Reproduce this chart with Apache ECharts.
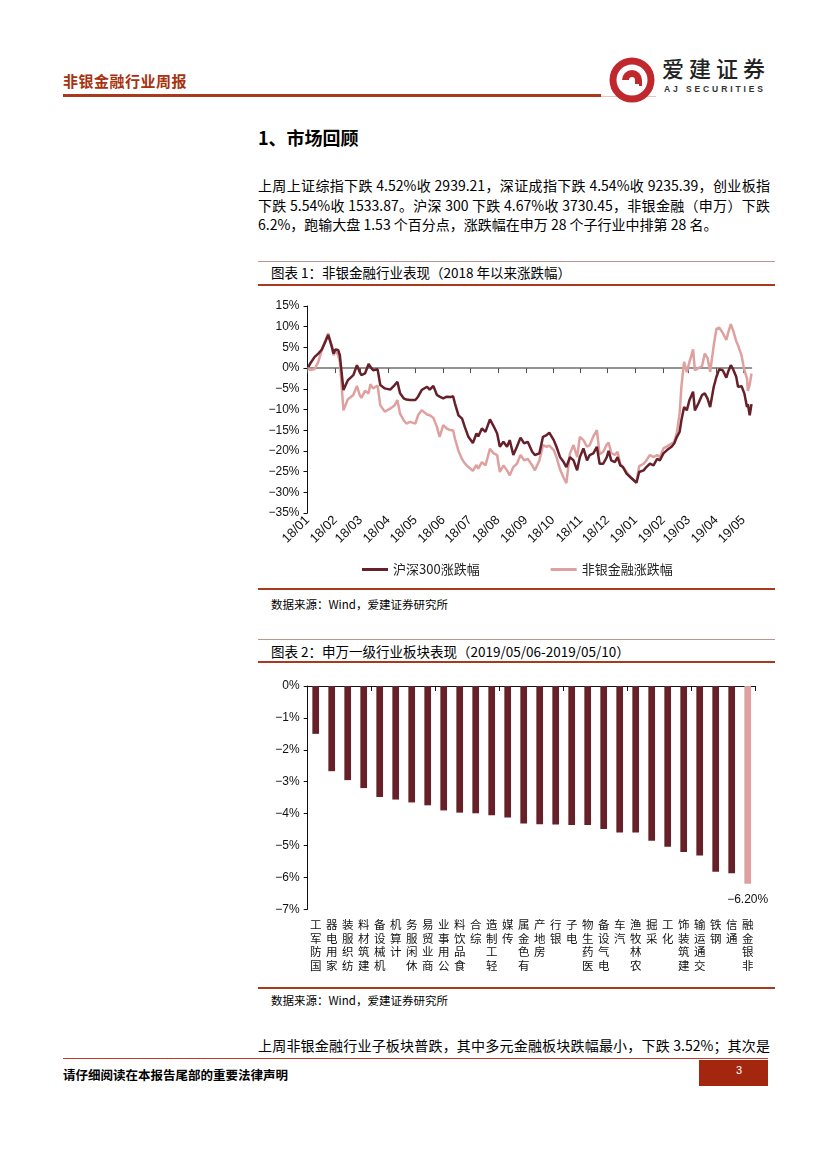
<!DOCTYPE html>
<html><head><meta charset="utf-8">
<script src="https://cdn.jsdelivr.net/npm/echarts@6/dist/echarts.min.js"></script>
<style>
html,body{margin:0;padding:0;background:#fff;}
body{width:827px;height:1169px;position:relative;overflow:hidden;font-family:"Noto Sans CJK SC","Liberation Sans",sans-serif;color:#000;}
.abs{position:absolute;white-space:nowrap;}
.hline{position:absolute;}
.para{position:absolute;left:258px;width:512px;font-size:14px;line-height:18px;white-space:nowrap;}
.just{text-align:justify;text-align-last:justify;}
.ttl{position:absolute;left:271px;font-size:13.5px;line-height:16px;}
.src{position:absolute;left:271px;font-size:11.5px;line-height:14px;}
</style></head>
<body>
<!-- header -->
<div class="abs" style="left:63px;top:72px;font-size:15px;font-weight:700;color:#A8310E;letter-spacing:0.5px;line-height:18px;">非银金融行业周报</div>
<div class="hline" style="left:63px;top:94px;width:538px;height:3px;background:#A8391A;"></div>
<div class="hline" style="left:601px;top:96px;width:55px;height:1px;background:#E2C7BE;"></div>
<svg class="abs" style="left:608px;top:56px" width="48" height="48" viewBox="0 0 48 48">
  <circle cx="24" cy="24" r="19" fill="none" stroke="#C0282D" stroke-width="7"/>
  <path d="M14 24 A10 10 0 0 1 34 24 L34 30 L27 30 L27 24 A3 3 0 0 0 21 24 Z" fill="#C0282D"/>
  <path d="M24 28 L31 28 L31 33 L24 33 Z" fill="#fff"/>
</svg>
<div class="abs" style="left:662px;top:55px;font-size:22px;line-height:25px;color:#222;letter-spacing:5px;font-weight:500;">爱建证券</div>
<div class="abs" style="left:664px;top:84px;font-size:8.5px;line-height:10px;color:#333;font-weight:700;letter-spacing:2.9px;font-family:'Liberation Sans',sans-serif;">AJ SECURITIES</div>

<!-- section title -->
<div class="abs" style="left:258px;top:126px;font-size:18px;font-weight:700;line-height:22px;">1、市场回顾</div>

<div class="para just" style="top:176px;">上周上证综指下跌 4.52%收 2939.21，深证成指下跌 4.54%收 9235.39，创业板指</div>
<div class="para just" style="top:195.5px;">下跌 5.54%收 1533.87。沪深 300 下跌 4.67%收 3730.45，非银金融（申万）下跌</div>
<div class="para" style="top:215px;">6.2%，跑输大盘 1.53 个百分点，涨跌幅在申万 28 个子行业中排第 28 名。</div>

<!-- chart 1 frame -->
<div class="hline" style="left:258px;top:261px;width:517px;height:1px;background:#B89893;"></div>
<div class="ttl" style="top:264px;">图表 1：非银金融行业表现（2018 年以来涨跌幅）</div>
<div class="hline" style="left:258px;top:284px;width:517px;height:2px;background:#A8391A;"></div>
<div id="c1" style="position:absolute;left:258px;top:290px;width:517px;height:296px;"></div>
<div class="hline" style="left:258px;top:588px;width:517px;height:2px;background:#A8391A;"></div>
<div class="src" style="top:597px;">数据来源：Wind，爱建证券研究所</div>

<!-- chart 2 frame -->
<div class="hline" style="left:258px;top:639px;width:517px;height:1px;background:#B89893;"></div>
<div class="ttl" style="top:643px;">图表 2：申万一级行业板块表现（2019/05/06-2019/05/10）</div>
<div class="hline" style="left:258px;top:661px;width:517px;height:2px;background:#A8391A;"></div>
<div id="c2" style="position:absolute;left:258px;top:670px;width:517px;height:316px;"></div>
<div class="hline" style="left:258px;top:987px;width:517px;height:2px;background:#A8391A;"></div>
<div class="src" style="top:993px;">数据来源：Wind，爱建证券研究所</div>

<div class="para just" style="top:1036px;">上周非银金融行业子板块普跌，其中多元金融板块跌幅最小，下跌 3.52%；其次是</div>

<!-- footer -->
<div class="hline" style="left:63px;top:1058px;width:705px;height:1px;background:#C0392B;"></div>
<div class="abs" style="left:63px;top:1067px;font-size:12.5px;font-weight:700;line-height:16px;">请仔细阅读在本报告尾部的重要法律声明</div>
<div class="hline" style="left:699px;top:1060px;width:69px;height:26px;background:#A3260F;"></div>
<div class="abs" style="left:736px;top:1064px;font-size:11px;color:#fff;line-height:13px;font-family:'Liberation Sans',sans-serif;">3</div>

<script>
// ---------- Chart 1 data ----------
const monthLabels = ['18/01','18/02','18/03','18/04','18/05','18/06','18/07','18/08','18/09','18/10','18/11','18/12','19/01','19/02','19/03','19/04','19/05'];
const yTicks1 = [15,10,5,0,-5,-10,-15,-20,-25,-30,-35];
const lineDates = ['2018-01-02','2018-01-04','2018-01-09','2018-01-13','2018-01-17','2018-01-21','2018-01-24','2018-01-28','2018-01-30','2018-02-01',
'2018-02-04','2018-02-06','2018-02-10','2018-02-15','2018-02-21','2018-02-25','2018-02-28','2018-03-02','2018-03-06','2018-03-10',
'2018-03-12','2018-03-15','2018-03-20','2018-03-23','2018-03-28','2018-04-03','2018-04-08','2018-04-11','2018-04-14','2018-04-18',
'2018-04-21','2018-04-25','2018-05-01','2018-05-04','2018-05-08','2018-05-14','2018-05-17','2018-05-21','2018-05-25','2018-05-28',
'2018-06-01','2018-06-05','2018-06-09','2018-06-12','2018-06-14','2018-06-18','2018-06-22','2018-06-25','2018-06-29','2018-07-04',
'2018-07-08','2018-07-10','2018-07-14','2018-07-18','2018-07-23','2018-07-27','2018-07-31','2018-08-03','2018-08-07','2018-08-11',
'2018-08-14','2018-08-18','2018-08-22','2018-08-26','2018-08-30','2018-09-03','2018-09-08','2018-09-11','2018-09-16','2018-09-20',
'2018-09-24','2018-09-27','2018-10-02','2018-10-05','2018-10-09','2018-10-13','2018-10-16','2018-10-20','2018-10-24','2018-10-28',
'2018-10-31','2018-11-04','2018-11-08','2018-11-11','2018-11-15','2018-11-19','2018-11-22','2018-11-26','2018-11-30','2018-12-02',
'2018-12-05','2018-12-09','2018-12-12','2018-12-15','2018-12-18','2018-12-22','2018-12-26','2018-12-30','2019-01-02','2019-01-05',
'2019-01-10','2019-01-13','2019-01-17','2019-01-21','2019-01-25','2019-01-28','2019-02-01','2019-02-05','2019-02-10','2019-02-13',
'2019-02-16','2019-02-19','2019-02-21','2019-02-24','2019-02-27','2019-03-02','2019-03-06','2019-03-08','2019-03-12','2019-03-16',
'2019-03-19','2019-03-22','2019-03-25','2019-03-29','2019-04-01','2019-04-04','2019-04-08','2019-04-12','2019-04-14','2019-04-17',
'2019-04-20','2019-04-23','2019-04-25','2019-04-29','2019-05-02','2019-05-05','2019-05-06','2019-05-08','2019-05-10'];
const hs300 = [0.3,1.1,2.7,3.5,4.5,6.5,8.0,5.2,3.5,4.5,
4.4,3.1,-5.3,-2.9,-1.7,0.7,-0.9,-1.7,-1.3,1.0,
0.3,-0.5,-0.3,-4.1,-4.9,-5.2,-4.1,-3.3,-6.1,-7.3,
-7.6,-7.7,-7.7,-6.9,-5.3,-4.5,-5.2,-4.3,-6.5,-6.9,
-7.3,-6.9,-7.0,-6.8,-8.5,-11.4,-12.2,-14.2,-16.6,-18.1,
-15.8,-16.5,-14.6,-15.4,-12.4,-14.0,-15.8,-19.0,-17.8,-19.0,
-17.4,-21.0,-19.0,-16.8,-18.2,-17.8,-20.2,-21.0,-20.6,-16.6,
-16.2,-15.6,-17.4,-19.0,-21.5,-22.7,-23.9,-21.5,-22.3,-24.7,
-21.5,-19.4,-22.3,-21.0,-20.6,-19.0,-23.1,-23.1,-21.5,-20.0,
-22.3,-22.7,-21.5,-23.5,-23.9,-25.5,-26.3,-27.1,-27.7,-25.1,
-24.7,-23.9,-23.1,-23.5,-21.9,-22.3,-20.6,-19.8,-19.0,-18.2,
-16.6,-15.4,-12.6,-9.4,-10.2,-7.7,-5.7,-10.2,-8.5,-6.5,
-6.1,-7.3,-9.4,-4.5,-2.1,-0.3,-0.5,-2.3,-0.9,0.7,
-0.5,-2.1,-4.5,-4.4,-6.1,-9.4,-8.7,-11.4,-8.7];
const nonBank = [0,-0.5,-0.2,1.5,4.5,6.6,8.4,5.5,3.1,4.2,
3.2,1.5,-10.2,-7.5,-6.5,-4.3,-6.5,-7.2,-5.5,-6.1,
-3.9,-4.9,-4.2,-9.0,-10.5,-9.8,-9.0,-7.7,-11.0,-12.6,
-13.4,-13.0,-13.4,-11.4,-10.2,-11.2,-11.4,-12.0,-14.2,-16.6,
-13.8,-14.6,-15.0,-15.0,-17.0,-20.0,-22.0,-23.0,-23.9,-24.8,
-23.4,-24.3,-22.7,-23.5,-19.5,-20.6,-21.0,-25.1,-23.5,-24.7,
-25.9,-23.9,-23.1,-21.0,-22.3,-21.9,-23.5,-24.7,-22.3,-18.6,
-19.0,-18.7,-19.8,-21.5,-24.5,-26.5,-27.8,-20.6,-18.6,-21.5,
-16.6,-17.4,-19.0,-18.6,-16.5,-15.0,-20.8,-20.2,-18.5,-18.0,
-20.5,-21.0,-20.2,-23.1,-23.9,-25.1,-26.3,-27.1,-27.5,-23.7,
-23.1,-22.3,-21.0,-21.5,-21.0,-21.5,-19.4,-18.9,-18.2,-17.8,
-15.5,-11.0,-4.5,1.5,-1.0,1.5,4.5,-0.5,0.0,0.5,
3.5,2.5,-0.9,5.5,9.5,9.8,8.5,6.8,8.5,10.6,
8.8,6.5,5.5,3.0,-0.5,-2.5,-5.5,-4.0,-1.3];
const seriesNames1 = ['沪深300涨跌幅','非银金融涨跌幅'];

// ---------- Chart 2 data ----------
const industries = ['国防军工','家用电器','纺织服装','建筑材料','机械设备','计算机','休闲服务','商业贸易','公用事业','食品饮料',
'综合','轻工制造','传媒','有色金属','房地产','银行','电子','医药生物','电气设备','汽车',
'农林牧渔','采掘','化工','建筑装饰','交通运输','钢铁','通信','非银金融'];
const weeklyChange = [-1.50,-2.67,-2.95,-3.20,-3.48,-3.56,-3.65,-3.74,-3.90,-3.97,
-3.99,-4.05,-4.12,-4.31,-4.33,-4.34,-4.36,-4.36,-4.48,-4.59,
-4.59,-4.85,-5.04,-5.20,-5.31,-5.82,-5.87,-6.20];
const highlight = '非银金融';
const yTicks2 = [0,-1,-2,-3,-4,-5,-6,-7];

const DARK = '#65202A', PINK = '#DFA0A0';
const numFont = "'Liberation Sans', Arial, sans-serif";
const pct = v => (v < 0 ? '\u2212' + Math.abs(v) : String(v)) + '%';

// ---------- Chart 1 ----------
// x is measured in calendar days since 2018-01-01 (the chart uses a calendar date axis)
const DAY = 86400000, ORIGIN = Date.UTC(2018, 0, 1);
const dayOf = s => { const p = s.split('-').map(Number); return Math.round((Date.UTC(p[0], p[1] - 1, p[2]) - ORIGIN) / DAY); };
const monthDays = monthLabels.map(s => { const [yy, mm] = s.split('/'); return Math.round((Date.UTC(2000 + +yy, +mm - 1, 1) - ORIGIN) / DAY); });
const dayToLabel = {}; monthDays.forEach((d, i) => dayToLabel[d] = monthLabels[i]);
const xMin = monthDays[0];
const xMax = dayOf(lineDates[lineDates.length - 1]);
const toPairs = vals => lineDates.map((d, i) => [dayOf(d), vals[i]]);

const c1 = echarts.init(document.getElementById('c1'), null, {renderer: 'canvas'});
c1.setOption({
  animation: false,
  grid: {left: 49.5, top: 16, width: 444, height: 207},
  legend: {
    data: seriesNames1, left: 99, top: 268, itemWidth: 26, itemHeight: 3, itemGap: 71,
    icon: 'rect', textStyle: {fontSize: 13, color: '#222', fontFamily: "'Noto Sans CJK SC', sans-serif"}
  },
  xAxis: [
    {type: 'value', min: xMin, max: xMax, position: 'bottom',
     axisLine: {show: false, onZero: false}, axisTick: {show: false}, splitLine: {show: false},
     axisLabel: {customValues: monthDays, rotate: 45, fontSize: 13, color: '#111', fontFamily: numFont, margin: 5,
       showMinLabel: true, showMaxLabel: true, hideOverlap: false,
       formatter: v => dayToLabel[v] || ''}},
    {type: 'value', min: xMin, max: xMax, position: 'top',
     axisLine: {show: true, onZero: true, lineStyle: {color: '#707070', width: 1.5}},
     axisTick: {show: true, inside: true, length: 5, customValues: monthDays, lineStyle: {color: '#505050', width: 1}},
     axisLabel: {show: false}, splitLine: {show: false}}
  ],
  yAxis: {
    type: 'value', min: -35, max: 15, interval: 5,
    axisLine: {show: true, onZero: false, lineStyle: {color: '#111', width: 1}},
    axisTick: {show: true, length: 4, lineStyle: {color: '#111'}},
    splitLine: {show: false},
    axisLabel: {fontSize: 12, color: '#111', fontFamily: numFont, margin: 8,
      formatter: v => yTicks1.includes(v) ? pct(v) : ''}
  },
  series: [
    {name: seriesNames1[0], type: 'line', xAxisIndex: 0, data: toPairs(hs300), showSymbol: false, z: 4,
     lineStyle: {color: DARK, width: 2.5}, itemStyle: {color: DARK}},
    {name: seriesNames1[1], type: 'line', xAxisIndex: 0, data: toPairs(nonBank), showSymbol: false, z: 3,
     lineStyle: {color: PINK, width: 2.5}, itemStyle: {color: PINK}}
  ]
});

// ---------- Chart 2 ----------
// category names are written as a column of upright characters, first character at the bottom
const stackUp = s => Array.from(s).reverse().join('\n');
const c2 = echarts.init(document.getElementById('c2'), null, {renderer: 'canvas'});
c2.setOption({
  animation: false,
  grid: {left: 49.7, top: 16, width: 448, height: 223.3},
  xAxis: [
    {type: 'category', data: industries, position: 'top',
     axisLine: {show: true, onZero: true, lineStyle: {color: '#111', width: 1}},
     axisTick: {show: true, inside: true, length: 5, lineStyle: {color: '#111'}},
     axisLabel: {show: false}},
    {type: 'category', data: industries, position: 'bottom',
     axisLine: {show: false, onZero: false}, axisTick: {show: false},
     axisLabel: {interval: 0, rotate: 0, fontSize: 11.5, lineHeight: 13.4, color: '#111', margin: 9,
       verticalAlign: 'top', align: 'center', formatter: v => stackUp(v),
       fontFamily: "'Noto Sans CJK SC', sans-serif"}}
  ],
  yAxis: {
    type: 'value', min: -7, max: 0, interval: 1,
    axisLine: {show: true, onZero: false, lineStyle: {color: '#111', width: 1}},
    axisTick: {show: true, length: 4, lineStyle: {color: '#111'}},
    splitLine: {show: false},
    axisLabel: {fontSize: 12, color: '#111', fontFamily: numFont, margin: 8,
      formatter: v => yTicks2.includes(v) ? pct(v) : ''}
  },
  series: [{
    type: 'bar', xAxisIndex: 0, barWidth: 6.7,
    data: weeklyChange.map((v, i) => ({
      value: v,
      itemStyle: {color: industries[i] === highlight ? PINK : DARK},
      label: industries[i] === highlight ? {show: true, position: 'bottom', distance: 10,
        formatter: p => '\u2212' + Math.abs(p.value).toFixed(2) + '%', fontSize: 12, color: '#111', fontFamily: numFont} : {show: false}
    }))
  }]
});
</script>
</body></html>
